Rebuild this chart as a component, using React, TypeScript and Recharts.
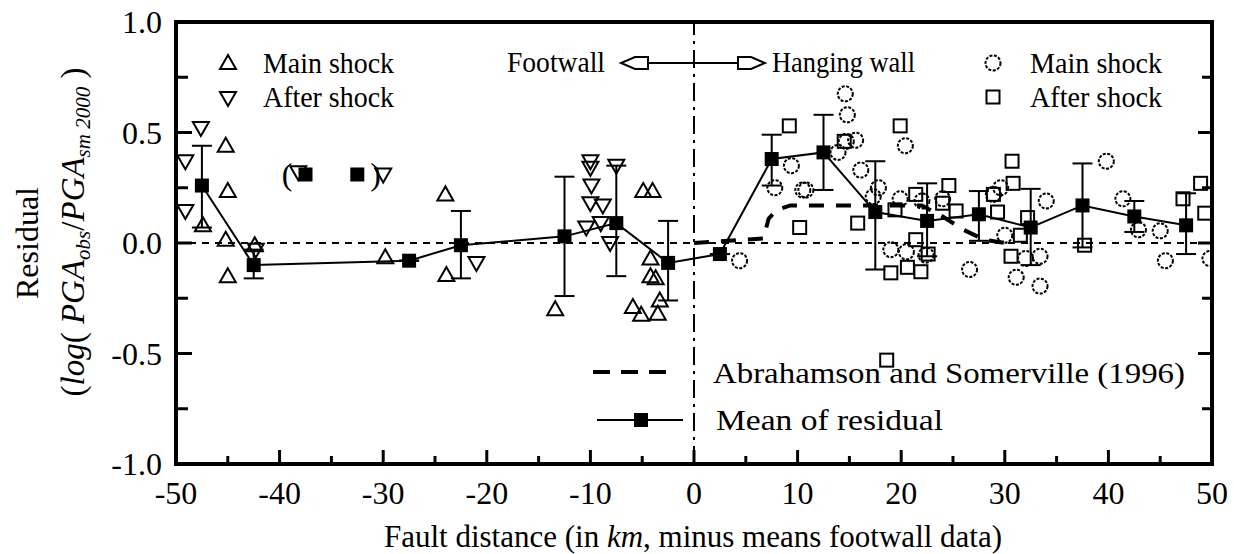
import React from 'react';
import {
  ComposedChart,
  XAxis,
  YAxis,
  Line,
  Scatter,
  ErrorBar,
  ReferenceLine,
} from 'recharts';

// axis ticks
const xTicks = [-50, -45, -40, -35, -30, -25, -20, -15, -10, -5, 0, 5, 10, 15, 20, 25, 30, 35, 40, 45, 50];
const yTicks = [-1, -0.75, -0.5, -0.25, 0, 0.25, 0.5, 0.75, 1];

// footwall, main shock (up triangles)
const fwMainX = [-45.2, -45.0, -47.4, -45.2, -42.4, -45.0, -29.8, -23.9, -24.0, -13.4, -4.9, -4.0, -4.2, -4.2, -3.7, -5.9, -5.1, -3.3, -3.5];
const fwMainY = [0.44, 0.235, 0.08, 0.015, -0.01, -0.15, -0.065, -0.145, 0.22, -0.3, 0.235, 0.235, -0.07, -0.15, -0.16, -0.29, -0.325, -0.26, -0.32];

// footwall, after shock (down triangles)
const fwAfterX = [-47.6, -49.1, -49.1, -42.3, -38.2, -30.0, -21.0, -10.0, -10.0, -7.5, -9.9, -10.0, -8.8, -10.4, -9.0, -8.1];
const fwAfterY = [0.52, 0.37, 0.145, -0.03, 0.32, 0.31, -0.09, 0.37, 0.34, 0.35, 0.26, 0.18, 0.17, 0.07, 0.09, 0.0];

// hanging wall, main shock (circles)
const hwMainX = [14.6, 14.8, 15.6, 14.7, 13.9, 9.4, 7.8, 10.5, 10.8, 16.1, 20.4, 17.8, 17.3, 19.9, 24.0, 19.0, 20.5, 22.4, 4.4, 39.8, 34.0, 41.4, 45.0, 42.9, 30.0, 33.4, 26.6, 31.1, 33.4, 45.5, 49.8, 32.0, 28.9, 29.6, 22.0];
const hwMainY = [0.675, 0.58, 0.465, 0.46, 0.41, 0.35, 0.25, 0.24, 0.24, 0.33, 0.44, 0.25, 0.21, 0.2, 0.2, -0.03, -0.04, -0.055, -0.08, 0.37, 0.19, 0.2, 0.055, 0.06, 0.035, -0.06, -0.12, -0.155, -0.195, -0.08, -0.07, -0.07, 0.22, 0.25, 0.19];

// hanging wall, after shock (squares)
const hwAfterX = [9.2, 19.9, 10.2, 15.8, 14.5, 21.4, 19.0, 20.6, 21.9, 24.6, 21.4, 19.4, 30.7, 25.3, 24.0, 29.3, 30.8, 32.2, 31.5, 30.6, 37.7, 47.2, 48.9, 49.3, 18.6, 28.9, 22.6];
const hwAfterY = [0.53, 0.53, 0.07, 0.09, 0.46, 0.015, -0.135, -0.11, -0.13, 0.26, 0.22, 0.15, 0.37, 0.145, 0.18, 0.14, 0.27, 0.115, 0.035, -0.06, -0.01, 0.2, 0.27, 0.135, -0.53, 0.22, -0.05];

// mean of residual with error bar ends
const meanX = [-47.5, -42.5, -27.5, -22.5, -12.5, -7.5, -2.5, 2.5, 7.5, 12.5, 17.5, 22.5, 27.5, 32.5, 37.5, 42.5, 47.5];
const meanY = [0.26, -0.1, -0.08, -0.01, 0.03, 0.09, -0.09, -0.05, 0.38, 0.41, 0.14, 0.1, 0.13, 0.07, 0.17, 0.12, 0.08];
const meanTop = [0.44, -0.03, -0.08, 0.145, 0.3, 0.35, 0.1, -0.05, 0.49, 0.58, 0.37, 0.27, 0.235, 0.245, 0.36, 0.19, 0.225];
const meanBottom = [0.07, -0.16, -0.08, -0.16, -0.24, -0.15, -0.26, -0.05, 0.26, 0.24, -0.12, -0.06, 0.01, -0.1, -0.02, 0.05, -0.05];

// means left out of the fit, shown in brackets
const excludedX = [-37.5, -32.5];
const excludedY = [0.31, 0.31];
const excludedParen = ['(', ')'];

// Abrahamson and Somerville (1996)
const as96X = [0, 6.7, 7.2, 8.0, 9.3, 22, 24, 26, 28, 30];
const as96Y = [0, 0.02, 0.11, 0.15, 0.17, 0.17, 0.12, 0.06, 0.015, 0];

const FONT = '"Liberation Serif", "Times New Roman", serif';

const pts = (xs: number[], ys: number[]) => xs.map((x, i) => ({ x, y: ys[i] }));

const fwMain = pts(fwMainX, fwMainY);
const fwAfter = pts(fwAfterX, fwAfterY);
const hwMain = pts(hwMainX, hwMainY);
const hwAfter = pts(hwAfterX, hwAfterY);
const as96 = pts(as96X, as96Y);
const excluded = excludedX.map((x, i) => ({ x, y: excludedY[i], paren: excludedParen[i] }));
const means = meanX.map((x, i) => ({
  x,
  y: meanY[i],
  err: [meanY[i] - meanBottom[i], meanTop[i] - meanY[i]],
}));

const TriUp = ({ cx, cy }: any) => (
  <path d={`M${cx},${cy - 8} L${cx - 8},${cy + 6} L${cx + 8},${cy + 6} Z`} fill="none" stroke="#000" strokeWidth={2} />
);
const TriDown = ({ cx, cy }: any) => (
  <path d={`M${cx - 8},${cy - 6} L${cx + 8},${cy - 6} L${cx},${cy + 8} Z`} fill="none" stroke="#000" strokeWidth={2} />
);
const Circ = ({ cx, cy }: any) => (
  <circle cx={cx} cy={cy} r={7.5} fill="none" stroke="#000" strokeWidth={2} strokeDasharray="3 1.5" />
);
const Sq = ({ cx, cy }: any) => (
  <rect x={cx - 6.5} y={cy - 6.5} width={13} height={13} fill="none" stroke="#000" strokeWidth={2} />
);
const MeanSq = ({ cx, cy }: any) => <rect x={cx - 7} y={cy - 7} width={14} height={14} fill="#000" />;

const isMajorX = (v: number) => v % 10 === 0;
const isMajorY = (v: number) => Math.abs(v * 2 - Math.round(v * 2)) < 1e-6;

const XTickBottom = ({ x, y, payload }: any) => {
  const v = payload.value;
  const major = isMajorX(v);
  return (
    <g>
      <line x1={x} x2={x} y1={y} y2={y - (major ? 14 : 8)} stroke="#000" strokeWidth={3} />
      {major && (
        <text x={x} y={y + 40} textAnchor="middle" fontSize={32} fontFamily={FONT} fill="#000">
          {v}
        </text>
      )}
    </g>
  );
};
const XTickTop = ({ x, y, payload }: any) => {
  const major = isMajorX(payload.value);
  return <line x1={x} x2={x} y1={y} y2={y + (major ? 14 : 8)} stroke="#000" strokeWidth={3} />;
};
const YTickLeft = ({ x, y, payload }: any) => {
  const v = payload.value;
  const major = isMajorY(v);
  return (
    <g>
      <line x1={x} x2={x + (major ? 16 : 12)} y1={y} y2={y} stroke="#000" strokeWidth={3} />
      {major && (
        <text x={x - 14} y={y + 11} textAnchor="end" fontSize={32} fontFamily={FONT} fill="#000">
          {v.toFixed(1)}
        </text>
      )}
    </g>
  );
};
const YTickRight = ({ x, y, payload }: any) => {
  const major = isMajorY(payload.value);
  return <line x1={x} x2={x - (major ? 14 : 10)} y1={y} y2={y} stroke="#000" strokeWidth={3} />;
};

const axisLineStyle = { stroke: '#000', strokeWidth: 4, strokeLinecap: 'square' as const };

const LegendText = ({ x, y, len, children }: any) => (
  <text x={x} y={y} fontSize={30} fontFamily={FONT} fill="#000" textLength={len} lengthAdjust="spacingAndGlyphs">
    {children}
  </text>
);

export default function App() {
  return (
    <div style={{ position: 'absolute', left: 0, top: 0, background: '#fff' }}>
      <ComposedChart width={1234} height={554} margin={{ top: 0, right: 0, bottom: 0, left: 0 }} style={{ fontFamily: FONT }}>
        <XAxis
          dataKey="x"
          type="number"
          domain={[-50, 50]}
          ticks={xTicks}
          interval={0}
          height={90}
          tickSize={0}
          tickMargin={0}
          tickLine={false}
          axisLine={axisLineStyle}
          tick={(p: any) => <XTickBottom {...p} />}
          allowDataOverflow
        />
        <XAxis
          xAxisId="top"
          orientation="top"
          type="number"
          domain={[-50, 50]}
          ticks={xTicks}
          interval={0}
          height={22}
          tickSize={0}
          tickMargin={0}
          tickLine={false}
          axisLine={axisLineStyle}
          tick={(p: any) => <XTickTop {...p} />}
          allowDataOverflow
        />
        <YAxis
          dataKey="y"
          type="number"
          domain={[-1, 1]}
          ticks={yTicks}
          interval={0}
          width={176}
          tickSize={0}
          tickMargin={0}
          tickLine={false}
          axisLine={axisLineStyle}
          tick={(p: any) => <YTickLeft {...p} />}
          allowDataOverflow
        />
        <YAxis
          yAxisId="right"
          orientation="right"
          type="number"
          domain={[-1, 1]}
          ticks={yTicks}
          interval={0}
          width={22}
          tickSize={0}
          tickMargin={0}
          tickLine={false}
          axisLine={axisLineStyle}
          tick={(p: any) => <YTickRight {...p} />}
          allowDataOverflow
        />

        <ReferenceLine y={0} stroke="#000" strokeWidth={2} strokeDasharray="7 6" />
        <ReferenceLine x={0} stroke="#000" strokeWidth={2} strokeDasharray="18 6 3 6" />

        <Line
          data={as96}
          dataKey="y"
          stroke="#000"
          strokeWidth={4}
          strokeDasharray="15 12"
          dot={false}
          activeDot={false}
          isAnimationActive={false}
        />

        <Scatter data={fwMain} shape={(p: any) => <TriUp cx={p.cx} cy={p.cy} />} isAnimationActive={false} />
        <Scatter data={fwAfter} shape={(p: any) => <TriDown cx={p.cx} cy={p.cy} />} isAnimationActive={false} />
        <Scatter data={hwMain} shape={(p: any) => <Circ cx={p.cx} cy={p.cy} />} isAnimationActive={false} />
        <Scatter data={hwAfter} shape={(p: any) => <Sq cx={p.cx} cy={p.cy} />} isAnimationActive={false} />
        <Scatter
          data={excluded}
          isAnimationActive={false}
          shape={(p: any) => {
            const left = p.payload.paren === '(';
            return (
              <g>
                <MeanSq cx={p.cx} cy={p.cy} />
                <text
                  x={left ? p.cx - 13 : p.cx + 13}
                  y={p.cy + 11}
                  textAnchor={left ? 'end' : 'start'}
                  fontSize={32}
                  fontFamily={FONT}
                  fill="#000"
                >
                  {p.payload.paren}
                </text>
              </g>
            );
          }}
        />

        <Line
          data={means}
          dataKey="y"
          stroke="#000"
          strokeWidth={2}
          dot={(p: any) => <MeanSq key={`m${p.index}`} cx={p.cx} cy={p.cy} />}
          activeDot={false}
          isAnimationActive={false}
        >
          <ErrorBar dataKey="err" direction="y" width={10} stroke="#000" strokeWidth={2} />
        </Line>

        {/* legends inside the frame */}
        <g>
          <TriUp cx={228} cy={63} />
          <LegendText x={263} y={73} len={131}>Main shock</LegendText>
          <TriDown cx={228} cy={98} />
          <LegendText x={263} y={107} len={131}>After shock</LegendText>

          <Circ cx={993} cy={63} />
          <LegendText x={1030} y={73} len={132}>Main shock</LegendText>
          <Sq cx={993} cy={97} />
          <LegendText x={1030} y={107} len={132}>After shock</LegendText>

          <LegendText x={507} y={72} len={98}>Footwall</LegendText>
          <path d="M648,57 L635,57 L621,63 L635,69 L648,69 Z" fill="none" stroke="#000" strokeWidth={2} />
          <line x1={648} x2={738} y1={63} y2={63} stroke="#000" strokeWidth={2} />
          <path d="M738,57 L751,57 L765,63 L751,69 L738,69 Z" fill="none" stroke="#000" strokeWidth={2} />
          <LegendText x={772} y={72} len={143}>Hanging wall</LegendText>

          <line x1={593} x2={667} y1={372} y2={372} stroke="#000" strokeWidth={4} strokeDasharray="17 11" />
          <LegendText x={713} y={383} len={472}>Abrahamson and Somerville (1996)</LegendText>
          <line x1={597} x2={683} y1={420} y2={420} stroke="#000" strokeWidth={2} />
          <MeanSq cx={641} cy={420} />
          <LegendText x={716} y={430} len={227}>Mean of residual</LegendText>
        </g>

        {/* axis titles */}
        <text transform="translate(38,243) rotate(-90)" textAnchor="middle" fontSize={32} fontFamily={FONT} fill="#000">
          Residual
        </text>
        <text transform="translate(84,232) rotate(-90)" textAnchor="middle" fontSize={33} fontFamily={FONT} fill="#000">
          (<tspan fontStyle="italic">log</tspan>( <tspan fontStyle="italic">PGA</tspan>
          <tspan fontSize={21} fontStyle="italic" dy={6}>obs</tspan>
          <tspan dy={-6}>/</tspan>
          <tspan fontStyle="italic">PGA</tspan>
          <tspan fontSize={21} fontStyle="italic" dy={6}>sm 2000</tspan>
          <tspan dy={-6}> )</tspan>
        </text>
        <text x={693} y={547} textAnchor="middle" fontSize={31} fontFamily={FONT} fill="#000">
          Fault distance (in <tspan fontStyle="italic">km</tspan>, minus means footwall data)
        </text>
      </ComposedChart>
    </div>
  );
}
